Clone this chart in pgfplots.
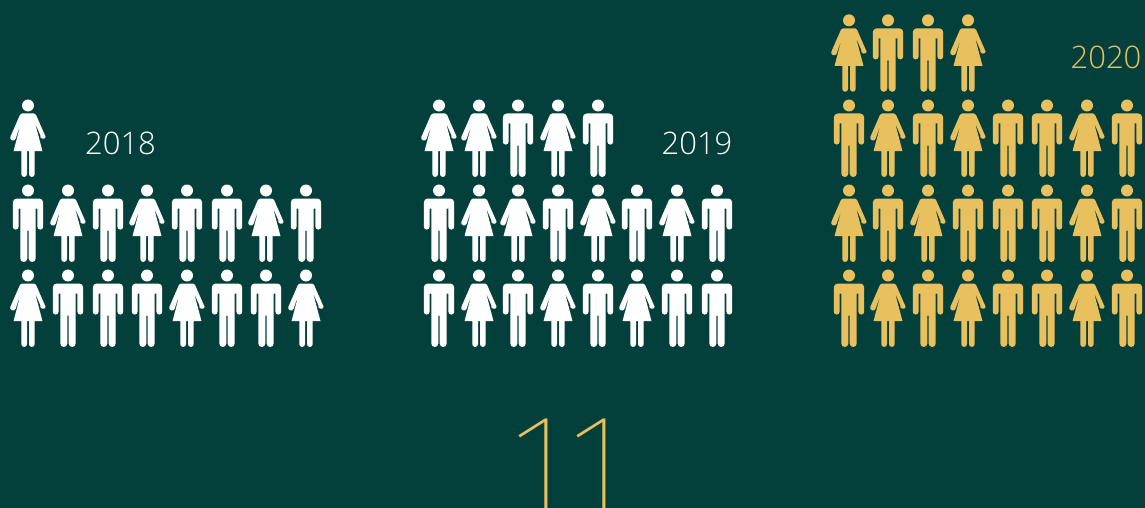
\documentclass[border=0pt]{standalone}
\usepackage{fontspec}
\usepackage{pgfplots}
\pgfplotsset{compat=1.18}
\setmainfont{Open Sans Light}
\newfontfamily\thinfont{Fira Sans Thin}
\definecolor{bgteal}{HTML}{03403C}
\definecolor{gold}{HTML}{E9C05E}

% Path helpers: lengths in pt, y measured downward from the centre of the head
\newcommand{\mv}[2]{\pgfpathmoveto{\pgfpoint{#1pt}{-#2pt}}}
\newcommand{\lnn}[2]{\pgfpathlineto{\pgfpoint{#1pt}{-#2pt}}}
\newcommand{\arcc}[3]{\pgfpatharc{#1}{#2}{#3pt}}

\pgfdeclareplotmark{man}{%
  \pgfpathcircle{\pgfpointorigin}{6pt}%
  \mv{-15.2}{12}\arcc{180}{90}{4}\lnn{11.2}{8}\arcc{90}{0}{4}%
  \lnn{15.2}{36.2}\arcc{0}{-180}{2.9}\lnn{9.4}{18}\lnn{7.7}{18}%
  \lnn{7.7}{68}\arcc{0}{-180}{3.5}\lnn{0.7}{40}\lnn{-0.7}{40}%
  \lnn{-0.7}{68}\arcc{0}{-180}{3.5}\lnn{-7.7}{18}\lnn{-9.4}{18}%
  \lnn{-9.4}{36.2}\arcc{0}{-180}{2.9}\pgfpathclose
  \pgfusepathqfill
}
\pgfdeclareplotmark{woman}{%
  \pgfpathcircle{\pgfpointorigin}{6pt}%
  \mv{-6}{8}\lnn{6}{8}\arcc{90}{20}{2.2}%
  \lnn{17.67}{31.44}\arcc{-18}{-198}{2.8}\lnn{7}{17.3}%
  \lnn{14.5}{45.7}\lnn{6.7}{45.7}\lnn{6.7}{68.6}\arcc{0}{-180}{2.85}%
  \lnn{1}{45.7}\lnn{-1}{45.7}\lnn{-1}{68.6}\arcc{0}{-180}{2.85}%
  \lnn{-6.7}{45.7}\lnn{-14.5}{45.7}\lnn{-7}{17.3}\lnn{-12.33}{33.16}%
  \arcc{-18}{-198}{2.8}\lnn{-8.07}{9.45}\arcc{160}{90}{2.2}\pgfpathclose
  \pgfusepathqfill
}

\begin{document}
\begin{tikzpicture}
\useasboundingbox (0,0) rectangle (1145pt,508pt);
\clip (0,0) rectangle (1145pt,508pt);
\fill[bgteal] (0,0) rectangle (1145pt,508pt);
\begin{axis}[
  at={(0,0)}, anchor=south west,
  hide axis, scale only axis, clip=false,
  width=1145pt, height=508pt,
  xmin=0, xmax=1145, ymin=0, ymax=508, y dir=reverse,
]
% 2018
\addplot[only marks, mark=man, color=white] coordinates {
  (28,190.5) (108,190.5) (187,190.5) (227,190.5) (306,190.5)
  (68,275.5) (108,275.5) (147,275.5) (227,275.5) (266,275.5)
};
\addplot[only marks, mark=woman, color=white] coordinates {
  (28,105.5)
  (68,190.5) (147,190.5) (266,190.5)
  (28,275.5) (187,275.5) (306,275.5)
};
% 2019
\addplot[only marks, mark=man, color=white] coordinates {
  (518,105.5) (598,105.5)
  (439,190.5) (558,190.5) (637,190.5) (717,190.5)
  (439,275.5) (518,275.5) (598,275.5) (677,275.5) (717,275.5)
};
\addplot[only marks, mark=woman, color=white] coordinates {
  (439,105.5) (479,105.5) (558,105.5)
  (479,190.5) (518,190.5) (598,190.5) (677,190.5)
  (479,275.5) (558,275.5) (637,275.5)
};
% 2020
\addplot[only marks, mark=man, color=gold] coordinates {
  (888,20.3) (928,20.3)
  (849,105.5) (928,105.5) (1008,105.5) (1047,105.5) (1127,105.5)
  (888,190.5) (968,190.5) (1008,190.5) (1047,190.5) (1127,190.5)
  (849,275.5) (928,275.5) (1008,275.5) (1047,275.5) (1127,275.5)
};
\addplot[only marks, mark=woman, color=gold] coordinates {
  (849,20.3) (968,20.3)
  (888,105.5) (968,105.5) (1087,105.5)
  (849,190.5) (928,190.5) (1087,190.5)
  (888,275.5) (968,275.5) (1087,275.5)
};
\node[white, inner sep=0pt, font=\fontsize{31pt}{36pt}\selectfont] at (axis cs:120.5,143) {2018};
\node[white, inner sep=0pt, font=\fontsize{31pt}{36pt}\selectfont] at (axis cs:697,143) {2019};
\node[gold, inner sep=0pt, font=\fontsize{31pt}{36pt}\selectfont] at (axis cs:1106,57) {2020};
\node[gold, inner sep=0pt, anchor=base, font=\thinfont\fontsize{140pt}{150pt}\selectfont] at (axis cs:568,511) {1\kern3pt 1};
\end{axis}
\end{tikzpicture}
\end{document}
